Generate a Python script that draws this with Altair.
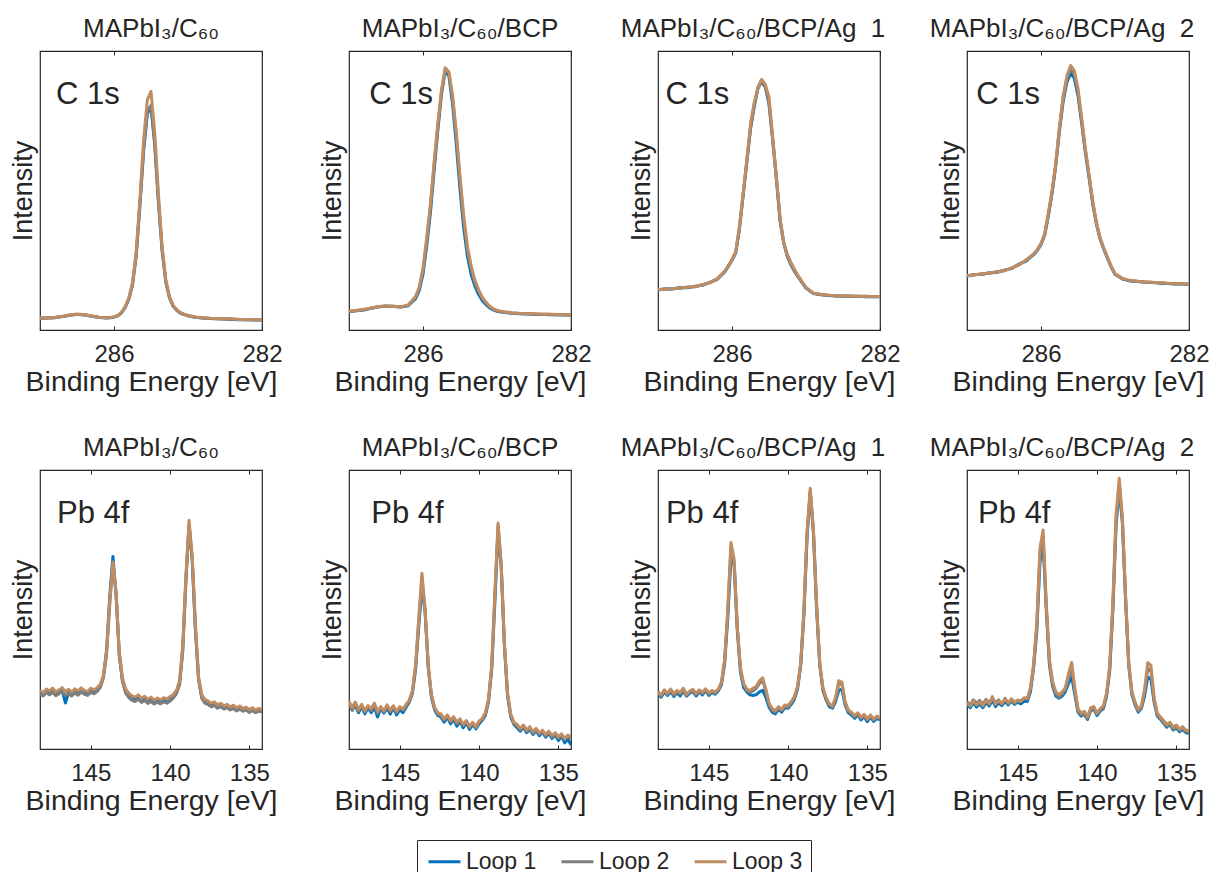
import altair as alt
import pandas as pd

FONT = "Liberation Sans, Arial, Helvetica, sans-serif"
INK = "#262626"

LOOPS = ["Loop 1", "Loop 2", "Loop 3"]
COLORS = ["#0072BD", "#7F7F7F", "#C08C62"]

TITLES = ["MAPbI₃/C₆₀", "MAPbI₃/C₆₀/BCP", "MAPbI₃/C₆₀/BCP/Ag\u00a0 1", "MAPbI₃/C₆₀/BCP/Ag\u00a0 2"]
TITLE_DX = [0, 0, -16, -16]

# ---------------- C 1s ----------------
C1S_ENERGY = [288.0, 287.8, 287.6, 287.4, 287.2, 287.0, 286.8, 286.6, 286.4, 286.2,
              286.1, 286.0, 285.9, 285.8, 285.7, 285.6, 285.5, 285.4, 285.3, 285.2,
              285.1, 285.0, 284.9, 284.8, 284.7, 284.6, 284.5, 284.4, 284.3, 284.2,
              284.1, 284.0, 283.8, 283.6, 283.4, 283.2, 283.0, 282.8, 282.6, 282.4,
              282.2, 282.0]
C1S_TICKS = [286, 282]

c1s_p1_loop1 = [4.2, 4.3, 4.4, 4.8, 5.3, 5.6, 5.4, 4.9, 4.5, 4.3, 4.4, 4.6, 5.1, 6.1, 8.0, 11.0, 16.2, 26.5, 44.5, 64.0,
                77.5, 79.8, 66.5, 46.0, 28.5, 17.2, 11.5, 8.5, 7.0, 6.0, 5.5, 5.1, 4.6, 4.3, 4.1, 4.0, 3.9, 3.8, 3.7, 3.7, 3.6, 3.6]
c1s_p1_loop2 = [4.3, 4.3, 4.5, 4.8, 5.3, 5.6, 5.5, 5.0, 4.6, 4.4, 4.5, 4.7, 5.1, 6.2, 8.1, 11.2, 16.5, 27.0, 45.5, 65.0,
                78.5, 80.5, 67.5, 46.5, 29.0, 17.5, 11.7, 8.6, 7.1, 6.1, 5.5, 5.1, 4.6, 4.3, 4.1, 4.0, 3.9, 3.9, 3.8, 3.7, 3.7, 3.6]
c1s_p1_loop3 = [4.3, 4.3, 4.5, 4.9, 5.4, 5.7, 5.5, 5.0, 4.6, 4.4, 4.5, 4.7, 5.2, 6.3, 8.3, 11.5, 17.0, 28.0, 47.0, 68.0,
                82.5, 85.5, 71.0, 49.0, 30.0, 18.0, 12.0, 8.8, 7.2, 6.2, 5.6, 5.2, 4.7, 4.4, 4.2, 4.1, 4.0, 3.9, 3.8, 3.8, 3.7, 3.7]

c1s_p2_loop1 = [6.5, 6.9, 7.2, 7.8, 8.3, 8.5, 8.4, 8.2, 8.7, 11.2, 14.2, 20.0, 30.0, 42.0, 57.0, 71.5, 84.5, 92.7, 91.0, 81.0,
                66.5, 50.5, 36.5, 26.5, 20.0, 15.8, 12.8, 10.6, 9.1, 7.9, 7.2, 6.7, 6.3, 6.0, 5.8, 5.7, 5.6, 5.6, 5.5, 5.5, 5.4, 5.4]
c1s_p2_loop2 = [6.6, 7.0, 7.3, 7.8, 8.3, 8.6, 8.5, 8.2, 8.9, 11.8, 15.0, 21.5, 32.0, 44.0, 59.0, 73.0, 85.5, 93.5, 92.0, 83.0,
                69.5, 53.5, 39.5, 29.0, 22.0, 17.2, 14.0, 11.4, 9.7, 8.3, 7.5, 6.9, 6.4, 6.1, 5.9, 5.8, 5.7, 5.6, 5.6, 5.5, 5.5, 5.4]
c1s_p2_loop3 = [6.7, 7.0, 7.4, 7.9, 8.4, 8.6, 8.5, 8.3, 9.0, 12.0, 15.5, 22.0, 33.0, 45.0, 60.0, 74.0, 86.0, 94.0, 92.5, 84.0,
                71.0, 55.0, 41.0, 30.0, 23.0, 18.0, 14.5, 11.8, 10.0, 8.5, 7.6, 7.0, 6.5, 6.2, 6.0, 5.9, 5.8, 5.7, 5.7, 5.6, 5.5, 5.5]

c1s_p3_loop1 = [14.3, 14.8, 14.7, 15.2, 15.1, 15.7, 16.0, 17.1, 18.1, 20.7, 22.8, 25.0, 27.6, 36.0, 48.0, 60.0, 72.0, 80.0, 86.5, 89.0,
                87.0, 81.0, 68.0, 54.0, 39.0, 31.0, 26.2, 23.2, 20.8, 18.8, 16.9, 15.0, 13.1, 12.6, 12.4, 12.2, 12.2, 12.0, 12.1, 11.9, 12.0, 11.9]
c1s_p3_loop2 = [14.5, 14.6, 14.9, 15.0, 15.4, 15.5, 16.2, 16.9, 18.3, 20.9, 22.9, 25.2, 27.8, 36.5, 48.5, 60.5, 72.5, 80.5, 87.0, 89.7,
                87.5, 81.5, 68.5, 54.5, 39.5, 31.2, 26.4, 23.4, 20.9, 18.9, 17.0, 15.1, 13.2, 12.7, 12.5, 12.3, 12.1, 12.2, 12.0, 12.1, 11.9, 12.0]
c1s_p3_loop3 = [14.5, 14.7, 14.9, 15.1, 15.3, 15.6, 16.2, 17.0, 18.3, 21.0, 23.0, 25.3, 28.0, 37.0, 49.0, 61.0, 74.0, 81.5, 86.5, 89.8,
                88.0, 83.5, 69.0, 55.0, 40.0, 31.0, 27.0, 24.0, 21.5, 19.2, 17.2, 15.3, 13.2, 12.8, 12.5, 12.3, 12.2, 12.2, 12.1, 12.1, 12.0, 12.0]

c1s_p4_loop1 = [19.3, 19.9, 19.9, 20.5, 20.6, 21.4, 22.0, 23.6, 24.7, 27.0, 28.5, 30.6, 34.0, 41.0, 49.0, 59.0, 71.5, 82.0, 88.8, 92.0,
                90.2, 84.0, 74.0, 63.5, 54.5, 45.0, 37.8, 32.5, 28.9, 25.6, 22.5, 20.0, 18.3, 17.6, 17.4, 17.1, 17.0, 16.8, 16.7, 16.5, 16.5, 16.3]
c1s_p4_loop2 = [19.4, 19.7, 20.2, 20.3, 20.9, 21.2, 22.3, 23.3, 25.1, 27.2, 28.7, 30.9, 34.3, 41.6, 49.6, 59.6, 72.4, 83.2, 90.0, 93.6,
                91.8, 85.4, 75.2, 64.4, 55.0, 45.6, 38.2, 32.8, 29.1, 25.8, 22.7, 20.1, 18.4, 17.7, 17.5, 17.2, 17.1, 16.9, 16.8, 16.6, 16.6, 16.4]
c1s_p4_loop3 = [19.5, 19.8, 20.1, 20.4, 20.8, 21.3, 22.2, 23.4, 25.0, 27.3, 28.8, 31.0, 34.5, 42.0, 50.0, 60.0, 73.0, 84.0, 91.0, 94.8,
                93.0, 86.5, 76.0, 65.0, 55.5, 46.0, 38.5, 33.0, 29.2, 26.0, 22.8, 20.2, 18.5, 17.8, 17.5, 17.3, 17.1, 17.0, 16.8, 16.7, 16.6, 16.5]

# ---------------- Pb 4f ----------------
PB_ENERGY = [148.2, 148.0, 147.8, 147.6, 147.4, 147.2, 147.0, 146.8, 146.6, 146.4,
             146.2, 146.0, 145.8, 145.6, 145.4, 145.2, 145.0, 144.8, 144.6, 144.4,
             144.2, 144.0, 143.8, 143.6, 143.4, 143.2, 143.0, 142.8, 142.6, 142.4,
             142.2, 142.0, 141.8, 141.6, 141.4, 141.2, 141.0, 140.8, 140.6, 140.4,
             140.2, 140.0, 139.8, 139.6, 139.4, 139.2, 139.0, 138.8, 138.6, 138.4,
             138.2, 138.0, 137.8, 137.6, 137.4, 137.2, 137.0, 136.8, 136.6, 136.4,
             136.2, 136.0, 135.8, 135.6, 135.4, 135.2, 135.0, 134.8, 134.6, 134.4,
             134.2]
PB_TICKS = [145, 140, 135]

pb_p1_loop1 = [20.0, 19.5, 20.8, 19.6, 20.9, 19.8, 20.4, 21.0, 16.5, 20.2, 19.6, 20.8, 19.9, 20.6, 20.1, 19.5, 20.7, 20.3, 21.0, 22.5,
               26.0, 35.5, 55.0, 69.0, 55.0, 33.5, 24.5, 20.5, 19.2, 18.0, 17.6, 18.5, 17.4, 18.0, 16.9, 17.6, 16.6, 17.3, 16.5, 17.4,
               16.8, 17.6, 18.6, 20.2, 23.5, 35.5, 60.0, 80.5, 68.0, 43.0, 25.0, 18.6, 16.8, 16.5, 15.8, 16.2, 15.0, 15.8, 14.8, 15.2,
               14.4, 15.0, 13.9, 14.7, 13.8, 14.2, 13.4, 14.1, 13.2, 13.9, 13.5]
pb_p1_loop2 = [19.5, 19.0, 20.2, 19.4, 20.3, 19.1, 19.8, 20.5, 19.2, 19.9, 19.0, 20.1, 19.3, 20.4, 19.6, 19.2, 20.3, 19.8, 20.6, 22.0,
               25.5, 34.0, 52.0, 66.5, 55.5, 34.0, 24.2, 20.0, 18.4, 17.4, 17.0, 17.8, 16.7, 17.4, 16.3, 17.0, 16.1, 16.8, 16.2, 16.9,
               16.4, 17.2, 18.2, 19.8, 23.0, 35.0, 61.0, 80.0, 67.5, 43.0, 25.0, 18.2, 16.4, 15.9, 15.1, 15.6, 14.6, 15.2, 14.3, 14.8,
               14.0, 14.5, 13.6, 14.3, 13.5, 14.0, 13.1, 13.8, 13.0, 13.6, 13.2]
pb_p1_loop3 = [21.0, 20.2, 21.5, 20.8, 21.8, 20.5, 21.2, 22.0, 20.6, 21.4, 20.4, 21.6, 20.8, 21.9, 21.0, 20.6, 21.8, 21.2, 22.0, 23.2,
               26.5, 35.0, 53.0, 67.0, 56.0, 35.0, 25.5, 21.5, 20.0, 19.0, 18.6, 19.4, 18.2, 18.9, 17.8, 18.6, 17.5, 18.3, 17.6, 18.4,
               17.9, 18.8, 19.5, 21.0, 24.5, 37.0, 62.0, 82.0, 69.0, 45.0, 26.0, 19.5, 17.8, 17.2, 16.4, 16.9, 15.8, 16.4, 15.5, 16.0,
               15.1, 15.7, 14.8, 15.4, 14.5, 15.0, 14.2, 14.8, 14.0, 14.6, 14.1]

pb_p2_loop1 = [16.0, 14.2, 15.5, 13.0, 15.2, 12.6, 14.8, 13.0, 15.0, 11.5, 14.5, 12.8, 14.6, 12.5, 14.8, 12.2, 14.0, 13.0, 15.0, 16.8,
               20.0, 28.5, 44.0, 58.0, 49.0, 29.0, 18.5, 14.0, 12.0, 11.4, 9.6, 11.4, 9.0, 10.6, 8.2, 9.8, 7.6, 9.4, 7.0, 8.8,
               7.2, 9.0, 10.2, 12.0, 17.0, 28.5, 53.0, 78.0, 65.0, 37.0, 19.0, 11.5, 8.8, 7.6, 6.4, 7.8, 5.8, 7.0, 5.2, 6.6,
               4.8, 6.0, 4.2, 5.6, 3.8, 5.0, 3.0, 4.6, 2.2, 3.6, 1.4]
pb_p2_loop2 = [16.6, 13.8, 16.2, 13.6, 15.6, 13.2, 15.2, 13.8, 16.0, 12.8, 14.8, 13.2, 15.4, 13.4, 15.0, 13.0, 14.8, 13.8, 15.6, 17.2,
               20.6, 29.5, 46.0, 61.5, 49.5, 29.5, 19.0, 14.4, 12.5, 11.9, 10.4, 11.8, 9.7, 11.2, 9.1, 10.4, 8.4, 9.8, 7.8, 9.2,
               7.6, 9.6, 10.6, 12.6, 17.6, 29.5, 55.0, 80.0, 65.5, 37.5, 19.5, 12.0, 9.2, 8.3, 7.0, 8.2, 6.3, 7.6, 5.7, 7.0,
               5.3, 6.4, 4.7, 6.0, 4.3, 5.4, 3.9, 5.0, 3.3, 4.6, 3.8]
pb_p2_loop3 = [17.0, 15.0, 16.8, 14.2, 16.0, 13.8, 15.6, 14.4, 16.5, 13.5, 15.2, 13.8, 15.8, 14.0, 15.5, 13.6, 15.2, 14.3, 16.0, 17.5,
               21.0, 30.0, 47.0, 63.0, 50.0, 30.0, 19.5, 15.0, 13.0, 12.6, 10.8, 12.2, 10.2, 11.6, 9.6, 10.8, 8.8, 10.2, 8.2, 9.6,
               8.0, 10.0, 11.0, 13.0, 18.0, 30.0, 56.0, 81.0, 66.0, 38.0, 20.0, 12.5, 9.6, 8.8, 7.4, 8.6, 6.8, 8.0, 6.2, 7.4,
               5.8, 6.8, 5.2, 6.4, 4.8, 5.8, 4.4, 5.4, 3.8, 5.0, 4.2]

pb_p3_loop1 = [19.8, 18.6, 20.4, 19.2, 20.6, 18.8, 20.2, 19.0, 20.8, 18.9, 20.0, 20.6, 19.0, 20.5, 19.4, 20.9, 19.2, 20.3, 19.6, 20.8,
               23.0, 30.5, 47.0, 68.5, 66.0, 42.5, 27.5, 22.0, 20.5, 19.4, 19.2, 19.5, 20.5, 21.0, 18.5, 15.0, 13.2, 12.6, 14.2, 13.2,
               14.8, 14.6, 16.0, 17.8, 21.5, 30.0, 48.0, 76.0, 91.7, 77.5, 50.5, 30.0, 21.0, 17.6, 15.2, 14.6, 17.0, 21.0, 21.5, 15.8,
               13.0, 12.2, 11.0, 12.2, 10.4, 11.6, 9.8, 11.4, 9.9, 11.0, 10.4]
pb_p3_loop2 = [20.2, 19.0, 20.9, 19.6, 21.2, 19.3, 20.6, 19.8, 21.3, 19.2, 20.4, 21.0, 19.5, 20.8, 19.9, 21.2, 19.7, 20.6, 20.0, 21.1,
               23.6, 31.5, 49.0, 72.5, 67.0, 43.5, 28.5, 23.0, 21.0, 20.2, 20.8, 21.8, 23.5, 24.5, 20.8, 16.0, 13.8, 13.2, 14.6, 13.8,
               15.2, 15.0, 16.6, 18.4, 22.0, 30.5, 49.0, 77.0, 92.5, 78.5, 51.5, 30.5, 21.6, 18.0, 15.8, 15.0, 18.0, 23.5, 23.2, 16.6,
               13.6, 12.8, 11.6, 12.6, 11.0, 12.0, 10.4, 11.8, 10.4, 11.4, 10.8]
pb_p3_loop3 = [20.5, 19.4, 21.2, 20.0, 21.5, 19.8, 21.0, 20.2, 21.8, 19.6, 20.8, 21.4, 19.9, 21.2, 20.3, 21.6, 20.1, 21.0, 20.4, 21.5,
               24.0, 32.0, 50.0, 74.0, 68.0, 44.0, 29.0, 23.5, 21.5, 21.0, 21.8, 22.5, 24.5, 25.5, 21.5, 16.5, 14.5, 13.8, 15.2, 14.2,
               15.8, 15.6, 17.0, 18.8, 22.5, 31.0, 50.0, 78.0, 93.5, 79.0, 52.0, 31.0, 22.0, 18.5, 16.2, 15.5, 18.5, 24.5, 24.0, 17.0,
               14.0, 13.2, 12.0, 13.0, 11.4, 12.4, 10.9, 12.2, 10.8, 11.8, 11.2]

pb_p4_loop1 = [16.0, 14.8, 16.6, 15.0, 16.2, 14.8, 16.6, 15.4, 17.5, 15.2, 16.5, 15.6, 17.0, 15.8, 17.2, 16.0, 16.8, 16.2, 17.2, 17.0,
               20.5, 29.0, 42.0, 67.0, 73.5, 50.0, 30.0, 22.5, 19.0, 18.2, 19.0, 20.5, 23.5, 25.8, 19.5, 13.2, 11.8, 12.5, 10.6, 13.8,
               14.2, 12.0, 13.6, 14.5, 18.8, 28.0, 50.0, 80.0, 93.5, 81.0, 53.5, 30.0, 19.4, 15.8, 13.2, 14.6, 19.0, 25.8, 25.0, 16.8,
               11.8, 10.6, 9.2, 7.8, 8.8, 6.8, 7.6, 6.2, 7.0, 5.8, 5.6]
pb_p4_loop2 = [17.0, 15.8, 17.6, 16.4, 17.4, 16.0, 17.8, 16.6, 18.2, 16.5, 17.6, 16.0, 18.2, 16.2, 17.6, 16.4, 17.2, 17.4, 18.0, 17.8,
               21.5, 30.0, 44.0, 70.0, 76.0, 51.0, 31.0, 23.5, 19.8, 18.5, 19.8, 21.4, 25.5, 29.0, 20.8, 13.8, 12.2, 13.0, 11.0, 14.2,
               14.8, 12.4, 14.0, 15.0, 19.4, 29.0, 51.5, 82.0, 95.0, 82.0, 54.0, 30.5, 20.0, 16.2, 13.6, 15.0, 20.5, 29.0, 28.0, 17.6,
               12.2, 11.0, 9.6, 8.2, 9.2, 7.2, 8.0, 6.6, 7.4, 6.2, 6.0]
pb_p4_loop3 = [16.5, 15.4, 17.2, 15.8, 16.9, 15.5, 17.4, 16.1, 18.8, 16.0, 17.2, 16.4, 17.8, 16.6, 18.0, 16.8, 17.6, 17.0, 18.4, 18.2,
               22.0, 30.0, 45.0, 72.0, 78.5, 52.0, 32.0, 24.0, 20.5, 19.5, 20.5, 22.0, 27.0, 31.0, 22.0, 14.5, 12.8, 13.5, 11.5, 14.8,
               15.2, 12.8, 14.5, 15.5, 20.0, 30.0, 53.0, 84.0, 97.0, 83.0, 55.0, 31.0, 20.5, 16.8, 14.2, 15.5, 21.5, 31.0, 30.0, 18.5,
               12.8, 11.5, 10.2, 8.8, 9.6, 7.8, 8.6, 7.2, 8.0, 6.8, 6.6]

# label anchors (energy, intensity) per panel
C1S_LABEL_E = [287.57, 287.45, 287.8, 287.75]
PB_LABEL_E = [147.13, 146.8, 147.7, 147.5]
LABEL_I = 81.0


def make_df(energy, loops):
    rows = []
    for name, vals in zip(LOOPS, loops):
        for e, v in zip(energy, vals):
            rows.append({"E": e, "I": v, "Loop": name})
    return pd.DataFrame(rows)


LEGEND = alt.Legend(
    title=None, orient="none", legendX=377, legendY=789, direction="horizontal",
    symbolType="M-1.33,0H1.33", symbolSize=576, symbolStrokeWidth=3, symbolOffset=6,
    labelFont=FONT, labelFontSize=23, labelColor=INK, labelOffset=8,
    strokeColor=INK, fillColor="white", padding=8, columnPadding=18,
)


def panel(title, dx, energy, loops, label, lx, domain, ticks):
    df = make_df(energy, loops)
    xs = alt.Scale(domain=domain, nice=False, zero=False)
    ys = alt.Scale(domain=[0, 100], nice=False, zero=False)
    lines = alt.Chart(df).mark_line(strokeWidth=3, clip=True, strokeJoin="round").encode(
        x=alt.X("E:Q", scale=xs, axis=alt.Axis(
            values=ticks, format="d", title="Binding Energy [eV]", tickSize=4, offset=-4,
            labelPadding=12, titlePadding=1, domain=False, grid=False,
            labelFlush=False, labelOverlap=False,
            labelFont=FONT, labelFontSize=24, labelColor=INK,
            titleFont=FONT, titleFontSize=28.5, titleColor=INK, titleFontWeight="normal")),
        y=alt.Y("I:Q", scale=ys, axis=alt.Axis(
            title="Intensity", labels=False, ticks=False, domain=False, grid=False,
            titlePadding=3, titleFont=FONT, titleFontSize=27, titleColor=INK,
            titleFontWeight="normal")),
        color=alt.Color("Loop:N", scale=alt.Scale(domain=LOOPS, range=COLORS), legend=LEGEND),
    )
    lab = pd.DataFrame({"E": [lx], "I": [LABEL_I], "t": [label]})
    txt = alt.Chart(lab).mark_text(
        align="left", baseline="alphabetic", fontSize=31, font=FONT, color=INK
    ).encode(
        x=alt.X("E:Q", scale=xs, axis=alt.Axis(
            orient="top", values=ticks, labels=False, title=None, tickSize=4, offset=-4,
            domain=False, grid=False)),
        y=alt.Y("I:Q", scale=ys, axis=None),
        text="t:N",
    )
    return alt.layer(lines, txt).resolve_axis(x="independent", y="independent").properties(
        width=222, height=279,
        title=alt.TitleParams(title, fontSize=26, font=FONT, color=INK, fontWeight="normal",
                              anchor="middle", baseline="alphabetic", offset=-12, dx=dx,
                              frame="group"),
    )


c1s_sets = [
    [c1s_p1_loop1, c1s_p1_loop2, c1s_p1_loop3],
    [c1s_p2_loop1, c1s_p2_loop2, c1s_p2_loop3],
    [c1s_p3_loop1, c1s_p3_loop2, c1s_p3_loop3],
    [c1s_p4_loop1, c1s_p4_loop2, c1s_p4_loop3],
]
pb_sets = [
    [pb_p1_loop1, pb_p1_loop2, pb_p1_loop3],
    [pb_p2_loop1, pb_p2_loop2, pb_p2_loop3],
    [pb_p3_loop1, pb_p3_loop2, pb_p3_loop3],
    [pb_p4_loop1, pb_p4_loop2, pb_p4_loop3],
]

panels = []
for i in range(4):
    panels.append(panel(TITLES[i], TITLE_DX[i], C1S_ENERGY, c1s_sets[i], "C 1s", C1S_LABEL_E[i],
                        [288, 282], C1S_TICKS))
for i in range(4):
    panels.append(panel(TITLES[i], TITLE_DX[i], PB_ENERGY, pb_sets[i], "Pb 4f", PB_LABEL_E[i],
                        [148.2, 134.2], PB_TICKS))

chart = alt.ConcatChart(
    concat=panels, columns=4, spacing={"row": 140, "column": 87}, bounds="flush"
).properties(
    padding={"left": 0, "top": 6, "right": 5, "bottom": 5},
    background="white",
).configure_view(
    stroke=INK, strokeWidth=1.2
).configure_axis(
    tickColor=INK, tickWidth=1,
)

chart.save("out.html", embed_options={"renderer": "svg", "actions": False})
